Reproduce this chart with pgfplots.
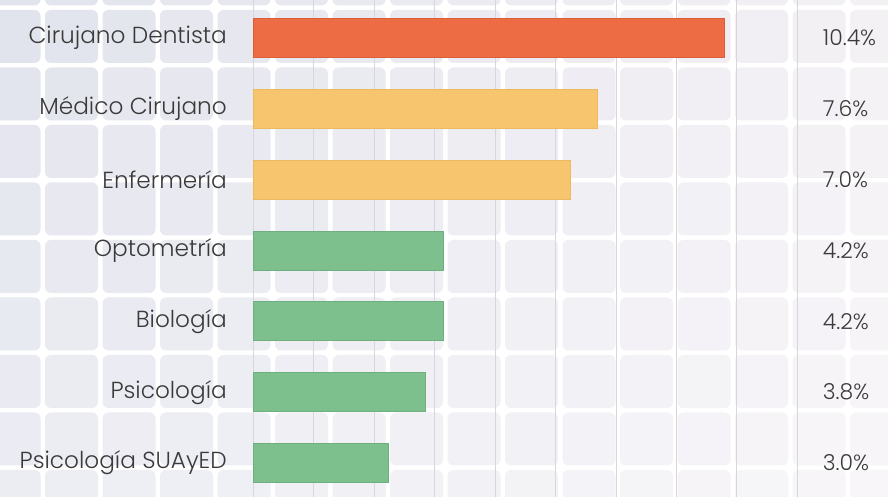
\documentclass[border=0pt]{standalone}
\usepackage{pgfplots}
\pgfplotsset{compat=1.18}
\usepackage{pgfplotstable}
\usepackage{fontspec}
\setmainfont{Poppins}[UprightFont=* Light]

\definecolor{tileL}{HTML}{E2E4ED}
\definecolor{tileR}{HTML}{F4F1F5}
\definecolor{barRed}{HTML}{EE6C44}
\definecolor{barRedE}{HTML}{DB5E3A}
\definecolor{barYel}{HTML}{F6C56E}
\definecolor{barYelE}{HTML}{EDB95E}
\definecolor{barGrn}{HTML}{7DBF8D}
\definecolor{barGrnE}{HTML}{6DAF7F}
\definecolor{txt}{HTML}{3A3A3A}
\definecolor{gridc}{HTML}{D6D6DB}

% grp: 0 = rojo, 1 = amarillo, 2 = verde
\pgfplotstableread[col sep=comma]{
idx,val,grp,name
0,10.4,0,Cirujano Dentista
1,7.6,1,Médico Cirujano
2,7.0,1,Enfermería
3,4.2,2,Optometría
4,4.2,2,Biología
5,3.8,2,Psicología
6,3.0,2,Psicología SUAyED
}\datos

\begin{document}
\begin{tikzpicture}[x=1bp,y=1bp]
\useasboundingbox (0,0) rectangle (888,497);
\fill[white] (0,0) rectangle (888,497);
% fondo de mosaicos
\begin{scope}
\clip (0,0) rectangle (888,497);
\foreach \i in {0,...,15}{
  \foreach \j in {-1,...,8}{
    \pgfmathsetmacro\m{100*\i/15}
    \pgfmathsetmacro\n{100-35*max(\j,0)/8}
    \fill[fill=tileR!\m!tileL!\n!white, rounded corners=6bp]
      ({-12.5+57.5*\i},{497-10-57.5*\j-53}) rectangle ++(53,53);
  }
}
\end{scope}
\begin{axis}[
    at={(253bp,0bp)}, anchor=south west,
    scale only axis,
    width=605bp, height=497bp,
    xbar, bar shift=0pt, bar width=39bp,
    xmin=0, xmax=13.36,
    ymin=-0.537, ymax=6.48,
    y dir=reverse,
    axis line style={draw=none},
    major tick length=0pt,
    xtick={0,1.3356,2.6712,4.0068,5.3424,6.678,8.0136,9.3492,10.6848,12.0204},
    xticklabels={},
    xmajorgrids,
    major grid style={gridc, line width=0.8bp},
    ytick={0,...,6},
    yticklabels from table={\datos}{name},
    yticklabel style={font=\fontsize{23.3}{26}\selectfont, text=txt, anchor=east, inner sep=0pt, xshift=-26bp},
    /pgf/number format/assume math mode=true,
    clip=false,
]
\addplot[fill=barRed, draw=barRedE, line width=0.8bp,
  restrict expr to domain={\thisrow{grp}}{0:0}] table[x=val, y=idx] {\datos};
\addplot[fill=barYel, draw=barYelE, line width=0.8bp,
  restrict expr to domain={\thisrow{grp}}{1:1}] table[x=val, y=idx] {\datos};
\addplot[fill=barGrn, draw=barGrnE, line width=0.8bp,
  restrict expr to domain={\thisrow{grp}}{2:2}] table[x=val, y=idx] {\datos};
% etiquetas de valor a la derecha
\addplot[draw=none, mark=none, xbar=false,
  nodes near coords={\pgfmathprintnumber[fixed, precision=1, fixed zerofill, assume math mode=true]{\pgfplotspointmeta}\%},
  every node near coord/.style={anchor=west, inner sep=0pt, font=\fontsize{22}{24}\selectfont, text=txt},
  point meta=\thisrow{val}] table[x expr=12.58, y=idx] {\datos};
\end{axis}
\end{tikzpicture}
\end{document}
